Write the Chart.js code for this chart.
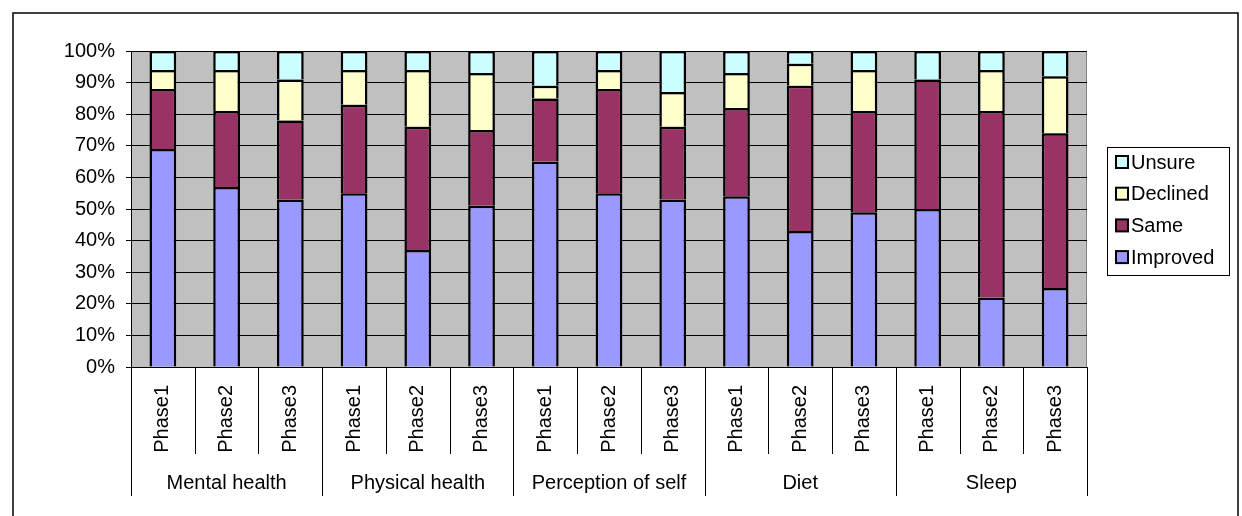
<!DOCTYPE html>
<html>
<head>
<meta charset="utf-8">
<script src="https://cdn.jsdelivr.net/npm/chart.js@4/dist/chart.umd.min.js"></script>
<style>
  html, body { margin: 0; padding: 0; background: #fff; }
  canvas { display: block; }
</style>
</head>
<body>
<canvas id="chart" width="1242" height="516"></canvas>
<script>
// ---- Data (percent of respondents) ----
const groups   = ['Mental health', 'Physical health', 'Perception of self', 'Diet', 'Sleep'];
const phases   = ['Phase1', 'Phase2', 'Phase3'];
const improved = [69, 57, 53, 55, 37, 51, 65, 55, 53, 54, 43, 49, 50, 22, 25];
const same     = [19, 24, 25, 28, 39, 24, 20, 33, 23, 28, 46, 32, 41, 59, 49];
const declined = [ 6, 13, 13, 11, 18, 18,  4,  6, 11, 11,  7, 13,  0, 13, 18];
const unsure   = [ 6,  6,  9,  6,  6,  7, 11,  6, 13,  7,  4,  6,  9,  6,  8];
const yTicks   = [0, 10, 20, 30, 40, 50, 60, 70, 80, 90, 100];

const FONT = 'Arial, "Liberation Sans", sans-serif';
const labels = [];
groups.forEach(g => phases.forEach(p => labels.push(g + '|' + p)));

const series = [
  { label: 'Improved', data: improved, color: '#9999FF' },
  { label: 'Same',     data: same,     color: '#993366' },
  { label: 'Declined', data: declined, color: '#FFFFCC' },
  { label: 'Unsure',   data: unsure,   color: '#CCFFFF' },
];

// Gray plot area + outer frame, category axis, legend
const excelLook = {
  id: 'excelLook',
  beforeDraw(chart) {
    const { ctx, chartArea: a } = chart;
    ctx.save();
    ctx.fillStyle = '#C0C0C0';
    ctx.fillRect(a.left, a.top, a.right - a.left, a.bottom - a.top);
    ctx.strokeStyle = '#808080';
    ctx.lineWidth = 1;
    ctx.strokeRect(a.left + 0.5, a.top + 0.5, a.right - a.left - 1, a.bottom - a.top);
    ctx.restore();
  },
  afterDraw(chart) {
    const { ctx, chartArea: a } = chart;
    const x = chart.scales.x;
    const catW = (a.right - a.left) / labels.length;
    ctx.save();

    // outer frame
    ctx.strokeStyle = '#000';
    ctx.lineWidth = 1.5;
    ctx.strokeRect(13, 13, 1225, 540);

    // category boundary ticks
    ctx.lineWidth = 1;
    ctx.strokeStyle = '#000';
    for (let i = 0; i <= labels.length; i++) {
      const px = Math.round(a.left + i * catW) + 0.5;
      ctx.beginPath();
      ctx.moveTo(px, a.bottom);
      ctx.lineTo(px, i % phases.length === 0 ? 496 : 454);
      ctx.stroke();
    }

    // rotated phase labels
    ctx.fillStyle = '#000';
    ctx.font = '20px ' + FONT;
    labels.forEach((lab, i) => {
      const cx = x.getPixelForValue(i);
      ctx.save();
      ctx.translate(cx, 385);
      ctx.rotate(-Math.PI / 2);
      ctx.textAlign = 'right';
      ctx.textBaseline = 'middle';
      ctx.fillText(lab.split('|')[1], 0, 0);
      ctx.restore();
    });

    // group labels
    ctx.textAlign = 'center';
    ctx.textBaseline = 'middle';
    groups.forEach((g, gi) => {
      const cx = a.left + (gi * phases.length + phases.length / 2) * catW;
      ctx.fillText(g, cx, 483);
    });

    // legend box
    ctx.lineWidth = 1;
    ctx.strokeRect(1107.5, 147.5, 122, 128);
    ctx.textAlign = 'left';
    const order = series.slice().reverse();
    order.forEach((s, i) => {
      const cy = 162 + i * 31.7;
      ctx.fillStyle = s.color;
      ctx.fillRect(1116, cy - 6, 12, 12);
      ctx.strokeStyle = '#000';
      ctx.lineWidth = 2;
      ctx.strokeRect(1116, cy - 6, 12, 12);
      ctx.fillStyle = '#000';
      ctx.fillText(s.label, 1131, cy + 1);
    });
    ctx.restore();
  }
};

new Chart(document.getElementById('chart'), {
  type: 'bar',
  data: {
    labels,
    datasets: series.map(s => ({
      label: s.label,
      data: s.data,
      backgroundColor: s.color,
      borderColor: '#000',
      borderWidth: 2.5,
      borderSkipped: 'bottom',
      categoryPercentage: 1,
      barPercentage: 0.42,
    }))
  },
  options: {
    responsive: false,
    animation: false,
    devicePixelRatio: 1,
    layout: { padding: { top: 51, right: 155, left: 0, bottom: 0 } },
    plugins: { legend: { display: false }, tooltip: { enabled: false } },
    scales: {
      x: {
        stacked: true,
        grid: { display: false },
        border: { display: true, color: '#000', width: 1 },
        ticks: { display: false },
        afterFit: s => { s.height = 149; }
      },
      y: {
        stacked: true,
        min: 0, max: 100,
        afterBuildTicks: s => { s.ticks = yTicks.map(v => ({ value: v })); },
        grid: { color: '#000', lineWidth: 1, drawTicks: true, tickLength: 5 },
        border: { display: true, color: '#000', width: 1 },
        ticks: { color: '#000', font: { family: FONT, size: 20 }, padding: 11, callback: v => v + '%' },
        afterFit: s => { s.width = 131; }
      }
    }
  },
  plugins: [excelLook]
});
</script>
</body>
</html>
